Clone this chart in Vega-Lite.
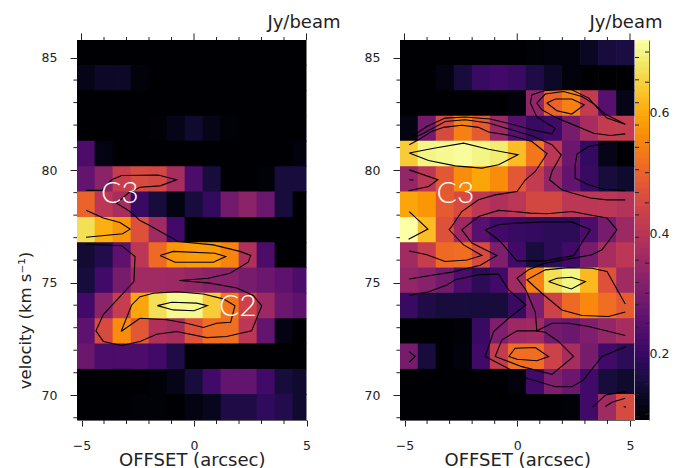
{"$schema":"https://vega.github.io/schema/vega-lite/v6.json","padding":{"left":17,"top":13,"right":0,"bottom":0},"bounds":"flush","spacing":0,"config":{"view":{"stroke":null},"axis":{"grid":false,"labelFont":"DejaVu Sans","labelFontSize":12.5,"labelColor":"#222","titleFont":"DejaVu Sans","titleFontSize":18,"titleFontWeight":"normal","titleColor":"#222","labelFlush":false,"tickColor":"#222","tickWidth":1,"domainColor":"#666","domainWidth":1},"title":{"font":"DejaVu Sans","fontSize":18,"fontWeight":"normal","color":"#222"}},
"datasets":{
"heatL":[
{"o":-4.8,"v":85.22,"f":0.08},{"o":-4,"v":85.22,"f":0.08},{"o":-3.2,"v":85.22,"f":0.08},{"o":-2.4,"v":85.22,"f":0.08},{"o":-1.6,"v":85.22,"f":0.08},{"o":-0.8,"v":85.22,"f":0.08},{"o":0,"v":85.22,"f":0.08},{"o":0.8,"v":85.22,"f":0.08},{"o":1.6,"v":85.22,"f":0.08},{"o":2.4,"v":85.22,"f":0.08},{"o":3.2,"v":85.22,"f":0.08},{"o":4,"v":85.22,"f":0.08},{"o":4.8,"v":85.22,"f":0.08},
{"o":-4.8,"v":84.09,"f":0.115},{"o":-4,"v":84.09,"f":0.134},{"o":-3.2,"v":84.09,"f":0.134},{"o":-2.4,"v":84.09,"f":0.103},{"o":-1.6,"v":84.09,"f":0.08},{"o":-0.8,"v":84.09,"f":0.08},{"o":0,"v":84.09,"f":0.08},{"o":0.8,"v":84.09,"f":0.08},{"o":1.6,"v":84.09,"f":0.08},{"o":2.4,"v":84.09,"f":0.08},{"o":3.2,"v":84.09,"f":0.08},{"o":4,"v":84.09,"f":0.08},{"o":4.8,"v":84.09,"f":0.08},
{"o":-4.8,"v":82.97,"f":0.08},{"o":-4,"v":82.97,"f":0.08},{"o":-3.2,"v":82.97,"f":0.08},{"o":-2.4,"v":82.97,"f":0.08},{"o":-1.6,"v":82.97,"f":0.08},{"o":-0.8,"v":82.97,"f":0.08},{"o":0,"v":82.97,"f":0.08},{"o":0.8,"v":82.97,"f":0.08},{"o":1.6,"v":82.97,"f":0.08},{"o":2.4,"v":82.97,"f":0.08},{"o":3.2,"v":82.97,"f":0.08},{"o":4,"v":82.97,"f":0.08},{"o":4.8,"v":82.97,"f":0.08},
{"o":-4.8,"v":81.84,"f":0.08},{"o":-4,"v":81.84,"f":0.08},{"o":-3.2,"v":81.84,"f":0.08},{"o":-2.4,"v":81.84,"f":0.08},{"o":-1.6,"v":81.84,"f":0.096},{"o":-0.8,"v":81.84,"f":0.115},{"o":0,"v":81.84,"f":0.14},{"o":0.8,"v":81.84,"f":0.115},{"o":1.6,"v":81.84,"f":0.096},{"o":2.4,"v":81.84,"f":0.08},{"o":3.2,"v":81.84,"f":0.08},{"o":4,"v":81.84,"f":0.08},{"o":4.8,"v":81.84,"f":0.08},
{"o":-4.8,"v":80.72,"f":0.229},{"o":-4,"v":80.72,"f":0.109},{"o":-3.2,"v":80.72,"f":0.08},{"o":-2.4,"v":80.72,"f":0.08},{"o":-1.6,"v":80.72,"f":0.08},{"o":-0.8,"v":80.72,"f":0.08},{"o":0,"v":80.72,"f":0.08},{"o":0.8,"v":80.72,"f":0.08},{"o":1.6,"v":80.72,"f":0.08},{"o":2.4,"v":80.72,"f":0.08},{"o":3.2,"v":80.72,"f":0.08},{"o":4,"v":80.72,"f":0.08},{"o":4.8,"v":80.72,"f":0.103},
{"o":-4.8,"v":79.59,"f":0.266},{"o":-4,"v":79.59,"f":0.329},{"o":-3.2,"v":79.59,"f":0.424},{"o":-2.4,"v":79.59,"f":0.455},{"o":-1.6,"v":79.59,"f":0.449},{"o":-0.8,"v":79.59,"f":0.373},{"o":0,"v":79.59,"f":0.229},{"o":0.8,"v":79.59,"f":0.153},{"o":1.6,"v":79.59,"f":0.08},{"o":2.4,"v":79.59,"f":0.08},{"o":3.2,"v":79.59,"f":0.096},{"o":4,"v":79.59,"f":0.153},{"o":4.8,"v":79.59,"f":0.153},
{"o":-4.8,"v":78.47,"f":0.5},{"o":-4,"v":78.47,"f":0.405},{"o":-3.2,"v":78.47,"f":0.373},{"o":-2.4,"v":78.47,"f":0.203},{"o":-1.6,"v":78.47,"f":0.153},{"o":-0.8,"v":78.47,"f":0.109},{"o":0,"v":78.47,"f":0.153},{"o":0.8,"v":78.47,"f":0.197},{"o":1.6,"v":78.47,"f":0.292},{"o":2.4,"v":78.47,"f":0.329},{"o":3.2,"v":78.47,"f":0.279},{"o":4,"v":78.47,"f":0.153},{"o":4.8,"v":78.47,"f":0.08},
{"o":-4.8,"v":77.34,"f":0.67},{"o":-4,"v":77.34,"f":0.607},{"o":-3.2,"v":77.34,"f":0.575},{"o":-2.4,"v":77.34,"f":0.468},{"o":-1.6,"v":77.34,"f":0.361},{"o":-0.8,"v":77.34,"f":0.216},{"o":0,"v":77.34,"f":0.08},{"o":0.8,"v":77.34,"f":0.08},{"o":1.6,"v":77.34,"f":0.08},{"o":2.4,"v":77.34,"f":0.08},{"o":3.2,"v":77.34,"f":0.08},{"o":4,"v":77.34,"f":0.08},{"o":4.8,"v":77.34,"f":0.08},
{"o":-4.8,"v":76.22,"f":0.147},{"o":-4,"v":76.22,"f":0.172},{"o":-3.2,"v":76.22,"f":0.26},{"o":-2.4,"v":76.22,"f":0.405},{"o":-1.6,"v":76.22,"f":0.512},{"o":-0.8,"v":76.22,"f":0.575},{"o":0,"v":76.22,"f":0.581},{"o":0.8,"v":76.22,"f":0.581},{"o":1.6,"v":76.22,"f":0.55},{"o":2.4,"v":76.22,"f":0.386},{"o":3.2,"v":76.22,"f":0.229},{"o":4,"v":76.22,"f":0.08},{"o":4.8,"v":76.22,"f":0.08},
{"o":-4.8,"v":75.09,"f":0.153},{"o":-4,"v":75.09,"f":0.216},{"o":-3.2,"v":75.09,"f":0.298},{"o":-2.4,"v":75.09,"f":0.361},{"o":-1.6,"v":75.09,"f":0.361},{"o":-0.8,"v":75.09,"f":0.355},{"o":0,"v":75.09,"f":0.342},{"o":0.8,"v":75.09,"f":0.329},{"o":1.6,"v":75.09,"f":0.323},{"o":2.4,"v":75.09,"f":0.298},{"o":3.2,"v":75.09,"f":0.279},{"o":4,"v":75.09,"f":0.26},{"o":4.8,"v":75.09,"f":0.229},
{"o":-4.8,"v":73.97,"f":0.216},{"o":-4,"v":73.97,"f":0.329},{"o":-3.2,"v":73.97,"f":0.424},{"o":-2.4,"v":73.97,"f":0.594},{"o":-1.6,"v":73.97,"f":0.67},{"o":-0.8,"v":73.97,"f":0.707},{"o":0,"v":73.97,"f":0.707},{"o":0.8,"v":73.97,"f":0.644},{"o":1.6,"v":73.97,"f":0.531},{"o":2.4,"v":73.97,"f":0.436},{"o":3.2,"v":73.97,"f":0.355},{"o":4,"v":73.97,"f":0.279},{"o":4.8,"v":73.97,"f":0.26},
{"o":-4.8,"v":72.84,"f":0.26},{"o":-4,"v":72.84,"f":0.455},{"o":-3.2,"v":72.84,"f":0.562},{"o":-2.4,"v":72.84,"f":0.481},{"o":-1.6,"v":72.84,"f":0.386},{"o":-0.8,"v":72.84,"f":0.373},{"o":0,"v":72.84,"f":0.468},{"o":0.8,"v":72.84,"f":0.518},{"o":1.6,"v":72.84,"f":0.518},{"o":2.4,"v":72.84,"f":0.405},{"o":3.2,"v":72.84,"f":0.266},{"o":4,"v":72.84,"f":0.109},{"o":4.8,"v":72.84,"f":0.08},
{"o":-4.8,"v":71.72,"f":0.279},{"o":-4,"v":71.72,"f":0.229},{"o":-3.2,"v":71.72,"f":0.229},{"o":-2.4,"v":71.72,"f":0.229},{"o":-1.6,"v":71.72,"f":0.216},{"o":-0.8,"v":71.72,"f":0.166},{"o":0,"v":71.72,"f":0.08},{"o":0.8,"v":71.72,"f":0.08},{"o":1.6,"v":71.72,"f":0.08},{"o":2.4,"v":71.72,"f":0.08},{"o":3.2,"v":71.72,"f":0.08},{"o":4,"v":71.72,"f":0.08},{"o":4.8,"v":71.72,"f":0.08},
{"o":-4.8,"v":70.59,"f":0.08},{"o":-4,"v":70.59,"f":0.08},{"o":-3.2,"v":70.59,"f":0.08},{"o":-2.4,"v":70.59,"f":0.08},{"o":-1.6,"v":70.59,"f":0.096},{"o":-0.8,"v":70.59,"f":0.115},{"o":0,"v":70.59,"f":0.153},{"o":0.8,"v":70.59,"f":0.216},{"o":1.6,"v":70.59,"f":0.266},{"o":2.4,"v":70.59,"f":0.266},{"o":3.2,"v":70.59,"f":0.216},{"o":4,"v":70.59,"f":0.153},{"o":4.8,"v":70.59,"f":0.14},
{"o":-4.8,"v":69.47,"f":0.08},{"o":-4,"v":69.47,"f":0.08},{"o":-3.2,"v":69.47,"f":0.08},{"o":-2.4,"v":69.47,"f":0.096},{"o":-1.6,"v":69.47,"f":0.096},{"o":-0.8,"v":69.47,"f":0.08},{"o":0,"v":69.47,"f":0.109},{"o":0.8,"v":69.47,"f":0.122},{"o":1.6,"v":69.47,"f":0.166},{"o":2.4,"v":69.47,"f":0.166},{"o":3.2,"v":69.47,"f":0.191},{"o":4,"v":69.47,"f":0.172},{"o":4.8,"v":69.47,"f":0.14}
],
"heatR":[
{"o":-4.8,"v":85.22,"f":0.08},{"o":-4,"v":85.22,"f":0.08},{"o":-3.2,"v":85.22,"f":0.08},{"o":-2.4,"v":85.22,"f":0.08},{"o":-1.6,"v":85.22,"f":0.08},{"o":-0.8,"v":85.22,"f":0.08},{"o":0,"v":85.22,"f":0.08},{"o":0.8,"v":85.22,"f":0.096},{"o":1.6,"v":85.22,"f":0.103},{"o":2.4,"v":85.22,"f":0.103},{"o":3.2,"v":85.22,"f":0.128},{"o":4,"v":85.22,"f":0.153},{"o":4.8,"v":85.22,"f":0.159},
{"o":-4.8,"v":84.09,"f":0.08},{"o":-4,"v":84.09,"f":0.08},{"o":-3.2,"v":84.09,"f":0.109},{"o":-2.4,"v":84.09,"f":0.153},{"o":-1.6,"v":84.09,"f":0.203},{"o":-0.8,"v":84.09,"f":0.216},{"o":0,"v":84.09,"f":0.203},{"o":0.8,"v":84.09,"f":0.166},{"o":1.6,"v":84.09,"f":0.134},{"o":2.4,"v":84.09,"f":0.103},{"o":3.2,"v":84.09,"f":0.08},{"o":4,"v":84.09,"f":0.08},{"o":4.8,"v":84.09,"f":0.08},
{"o":-4.8,"v":82.97,"f":0.08},{"o":-4,"v":82.97,"f":0.08},{"o":-3.2,"v":82.97,"f":0.08},{"o":-2.4,"v":82.97,"f":0.08},{"o":-1.6,"v":82.97,"f":0.08},{"o":-0.8,"v":82.97,"f":0.08},{"o":0,"v":82.97,"f":0.103},{"o":0.8,"v":82.97,"f":0.342},{"o":1.6,"v":82.97,"f":0.5},{"o":2.4,"v":82.97,"f":0.544},{"o":3.2,"v":82.97,"f":0.418},{"o":4,"v":82.97,"f":0.248},{"o":4.8,"v":82.97,"f":0.115},
{"o":-4.8,"v":81.84,"f":0.109},{"o":-4,"v":81.84,"f":0.292},{"o":-3.2,"v":81.84,"f":0.455},{"o":-2.4,"v":81.84,"f":0.544},{"o":-1.6,"v":81.84,"f":0.487},{"o":-0.8,"v":81.84,"f":0.355},{"o":0,"v":81.84,"f":0.248},{"o":0.8,"v":81.84,"f":0.203},{"o":1.6,"v":81.84,"f":0.216},{"o":2.4,"v":81.84,"f":0.298},{"o":3.2,"v":81.84,"f":0.373},{"o":4,"v":81.84,"f":0.418},{"o":4.8,"v":81.84,"f":0.418},
{"o":-4.8,"v":80.72,"f":0.644},{"o":-4,"v":80.72,"f":0.701},{"o":-3.2,"v":80.72,"f":0.707},{"o":-2.4,"v":80.72,"f":0.714},{"o":-1.6,"v":80.72,"f":0.701},{"o":-0.8,"v":80.72,"f":0.688},{"o":0,"v":80.72,"f":0.625},{"o":0.8,"v":80.72,"f":0.531},{"o":1.6,"v":80.72,"f":0.405},{"o":2.4,"v":80.72,"f":0.279},{"o":3.2,"v":80.72,"f":0.197},{"o":4,"v":80.72,"f":0.115},{"o":4.8,"v":80.72,"f":0.08},
{"o":-4.8,"v":79.59,"f":0.342},{"o":-4,"v":79.59,"f":0.405},{"o":-3.2,"v":79.59,"f":0.481},{"o":-2.4,"v":79.59,"f":0.562},{"o":-1.6,"v":79.59,"f":0.594},{"o":-0.8,"v":79.59,"f":0.562},{"o":0,"v":79.59,"f":0.481},{"o":0.8,"v":79.59,"f":0.418},{"o":1.6,"v":79.59,"f":0.342},{"o":2.4,"v":79.59,"f":0.266},{"o":3.2,"v":79.59,"f":0.203},{"o":4,"v":79.59,"f":0.153},{"o":4.8,"v":79.59,"f":0.14},
{"o":-4.8,"v":78.47,"f":0.594},{"o":-4,"v":78.47,"f":0.575},{"o":-3.2,"v":78.47,"f":0.487},{"o":-2.4,"v":78.47,"f":0.455},{"o":-1.6,"v":78.47,"f":0.405},{"o":-0.8,"v":78.47,"f":0.386},{"o":0,"v":78.47,"f":0.405},{"o":0.8,"v":78.47,"f":0.449},{"o":1.6,"v":78.47,"f":0.449},{"o":2.4,"v":78.47,"f":0.405},{"o":3.2,"v":78.47,"f":0.405},{"o":4,"v":78.47,"f":0.405},{"o":4.8,"v":78.47,"f":0.392},
{"o":-4.8,"v":77.34,"f":0.72},{"o":-4,"v":77.34,"f":0.625},{"o":-3.2,"v":77.34,"f":0.468},{"o":-2.4,"v":77.34,"f":0.355},{"o":-1.6,"v":77.34,"f":0.248},{"o":-0.8,"v":77.34,"f":0.216},{"o":0,"v":77.34,"f":0.203},{"o":0.8,"v":77.34,"f":0.197},{"o":1.6,"v":77.34,"f":0.185},{"o":2.4,"v":77.34,"f":0.185},{"o":3.2,"v":77.34,"f":0.229},{"o":4,"v":77.34,"f":0.298},{"o":4.8,"v":77.34,"f":0.355},
{"o":-4.8,"v":76.22,"f":0.361},{"o":-4,"v":76.22,"f":0.424},{"o":-3.2,"v":76.22,"f":0.512},{"o":-2.4,"v":76.22,"f":0.518},{"o":-1.6,"v":76.22,"f":0.455},{"o":-0.8,"v":76.22,"f":0.31},{"o":0,"v":76.22,"f":0.216},{"o":0.8,"v":76.22,"f":0.153},{"o":1.6,"v":76.22,"f":0.185},{"o":2.4,"v":76.22,"f":0.216},{"o":3.2,"v":76.22,"f":0.298},{"o":4,"v":76.22,"f":0.373},{"o":4.8,"v":76.22,"f":0.405},
{"o":-4.8,"v":75.09,"f":0.342},{"o":-4,"v":75.09,"f":0.323},{"o":-3.2,"v":75.09,"f":0.292},{"o":-2.4,"v":75.09,"f":0.229},{"o":-1.6,"v":75.09,"f":0.185},{"o":-0.8,"v":75.09,"f":0.216},{"o":0,"v":75.09,"f":0.361},{"o":0.8,"v":75.09,"f":0.544},{"o":1.6,"v":75.09,"f":0.67},{"o":2.4,"v":75.09,"f":0.701},{"o":3.2,"v":75.09,"f":0.619},{"o":4,"v":75.09,"f":0.468},{"o":4.8,"v":75.09,"f":0.361},
{"o":-4.8,"v":73.97,"f":0.203},{"o":-4,"v":73.97,"f":0.166},{"o":-3.2,"v":73.97,"f":0.153},{"o":-2.4,"v":73.97,"f":0.153},{"o":-1.6,"v":73.97,"f":0.153},{"o":-0.8,"v":73.97,"f":0.153},{"o":0,"v":73.97,"f":0.203},{"o":0.8,"v":73.97,"f":0.31},{"o":1.6,"v":73.97,"f":0.436},{"o":2.4,"v":73.97,"f":0.512},{"o":3.2,"v":73.97,"f":0.556},{"o":4,"v":73.97,"f":0.518},{"o":4.8,"v":73.97,"f":0.487},
{"o":-4.8,"v":72.84,"f":0.08},{"o":-4,"v":72.84,"f":0.08},{"o":-3.2,"v":72.84,"f":0.08},{"o":-2.4,"v":72.84,"f":0.096},{"o":-1.6,"v":72.84,"f":0.203},{"o":-0.8,"v":72.84,"f":0.31},{"o":0,"v":72.84,"f":0.355},{"o":0.8,"v":72.84,"f":0.361},{"o":1.6,"v":72.84,"f":0.292},{"o":2.4,"v":72.84,"f":0.279},{"o":3.2,"v":72.84,"f":0.31},{"o":4,"v":72.84,"f":0.342},{"o":4.8,"v":72.84,"f":0.373},
{"o":-4.8,"v":71.72,"f":0.298},{"o":-4,"v":71.72,"f":0.153},{"o":-3.2,"v":71.72,"f":0.08},{"o":-2.4,"v":71.72,"f":0.103},{"o":-1.6,"v":71.72,"f":0.216},{"o":-0.8,"v":71.72,"f":0.418},{"o":0,"v":71.72,"f":0.518},{"o":0.8,"v":71.72,"f":0.518},{"o":1.6,"v":71.72,"f":0.436},{"o":2.4,"v":71.72,"f":0.373},{"o":3.2,"v":71.72,"f":0.298},{"o":4,"v":71.72,"f":0.216},{"o":4.8,"v":71.72,"f":0.185},
{"o":-4.8,"v":70.59,"f":0.08},{"o":-4,"v":70.59,"f":0.08},{"o":-3.2,"v":70.59,"f":0.08},{"o":-2.4,"v":70.59,"f":0.08},{"o":-1.6,"v":70.59,"f":0.08},{"o":-0.8,"v":70.59,"f":0.08},{"o":0,"v":70.59,"f":0.103},{"o":0.8,"v":70.59,"f":0.216},{"o":1.6,"v":70.59,"f":0.31},{"o":2.4,"v":70.59,"f":0.279},{"o":3.2,"v":70.59,"f":0.216},{"o":4,"v":70.59,"f":0.153},{"o":4.8,"v":70.59,"f":0.14},
{"o":-4.8,"v":69.47,"f":0.08},{"o":-4,"v":69.47,"f":0.08},{"o":-3.2,"v":69.47,"f":0.08},{"o":-2.4,"v":69.47,"f":0.08},{"o":-1.6,"v":69.47,"f":0.08},{"o":-0.8,"v":69.47,"f":0.08},{"o":0,"v":69.47,"f":0.08},{"o":0.8,"v":69.47,"f":0.08},{"o":1.6,"v":69.47,"f":0.08},{"o":2.4,"v":69.47,"f":0.096},{"o":3.2,"v":69.47,"f":0.216},{"o":4,"v":69.47,"f":0.361},{"o":4.8,"v":69.47,"f":0.455}
],
"contL":[
{"c":"L1","i":0,"x":-4.8,"y":79.1},{"c":"L1","i":1,"x":-4.1,"y":79.1},{"c":"L1","i":2,"x":-3.66,"y":79.57},{"c":"L1","i":3,"x":-3.21,"y":79.76},{"c":"L1","i":4,"x":-1.59,"y":79.78},{"c":"L1","i":5,"x":-0.77,"y":79.57},{"c":"L1","i":6,"x":-1.51,"y":79.3},{"c":"L1","i":7,"x":-2.4,"y":79.24},{"c":"L1","i":8,"x":-2.92,"y":78.98},{"c":"L1","i":9,"x":-3.44,"y":78.53},{"c":"L1","i":10,"x":-2.84,"y":78.16},{"c":"L1","i":11,"x":-2.4,"y":77.76},{"c":"L1","i":12,"x":-2.03,"y":77.57},{"c":"L1","i":13,"x":-1.36,"y":77.2},{"c":"L1","i":14,"x":-0.7,"y":76.83},{"c":"L1","i":15,"x":0.86,"y":76.68},{"c":"L1","i":16,"x":2.04,"y":76.39},{"c":"L1","i":17,"x":2.52,"y":76.21},{"c":"L1","i":18,"x":2.41,"y":75.91},{"c":"L1","i":19,"x":1.6,"y":75.42},{"c":"L1","i":20,"x":0.64,"y":75.2},{"c":"L1","i":21,"x":-0.65,"y":75.1},{"c":"L1","i":22,"x":0.71,"y":74.98},{"c":"L1","i":23,"x":1.9,"y":74.76},{"c":"L1","i":24,"x":2.64,"y":74.43},{"c":"L1","i":25,"x":3.01,"y":73.97},{"c":"L1","i":26,"x":2.56,"y":72.86},{"c":"L1","i":27,"x":1.45,"y":72.61},{"c":"L1","i":28,"x":0.56,"y":72.56},{"c":"L1","i":29,"x":-0.77,"y":72.83},{"c":"L1","i":30,"x":-1.66,"y":72.71},{"c":"L1","i":31,"x":-2.4,"y":72.39},{"c":"L1","i":32,"x":-3.21,"y":72.21},{"c":"L1","i":33,"x":-4.03,"y":72.39},{"c":"L1","i":34,"x":-4.36,"y":72.86},{"c":"L1","i":35,"x":-4.03,"y":73.58},{"c":"L1","i":36,"x":-3.29,"y":74.38},{"c":"L1","i":37,"x":-2.67,"y":75.05},{"c":"L1","i":38,"x":-2.62,"y":76.16},{"c":"L1","i":39,"x":-3.21,"y":76.64},{"c":"L1","i":40,"x":-4.8,"y":76.71},
{"c":"L2","i":0,"x":-4.8,"y":78.22},{"c":"L2","i":1,"x":-4.03,"y":77.87},{"c":"L2","i":2,"x":-3.29,"y":77.67},{"c":"L2","i":3,"x":-2.84,"y":77.38},{"c":"L2","i":4,"x":-3.17,"y":77.17},{"c":"L2","i":5,"x":-4.8,"y":77.02},
{"c":"L3","i":0,"x":-1.51,"y":76.21},{"c":"L3","i":1,"x":-0.92,"y":76.39},{"c":"L3","i":2,"x":0.93,"y":76.31},{"c":"L3","i":3,"x":1.41,"y":76.16},{"c":"L3","i":4,"x":0.86,"y":75.91},{"c":"L3","i":5,"x":-0.84,"y":75.91},{"c":"L3","i":6,"x":-1.51,"y":76.21},
{"c":"L4","i":0,"x":-3.24,"y":72.83},{"c":"L4","i":1,"x":-2.77,"y":74.01},{"c":"L4","i":2,"x":-2.4,"y":74.38},{"c":"L4","i":3,"x":-1.81,"y":74.53},{"c":"L4","i":4,"x":-0.77,"y":74.6},{"c":"L4","i":5,"x":0.41,"y":74.5},{"c":"L4","i":6,"x":1.3,"y":74.28},{"c":"L4","i":7,"x":1.82,"y":73.97},{"c":"L4","i":8,"x":1.63,"y":73.24},{"c":"L4","i":9,"x":1.01,"y":73.2},{"c":"L4","i":10,"x":0.41,"y":73.01},{"c":"L4","i":11,"x":-0.33,"y":73.2},{"c":"L4","i":12,"x":-1.21,"y":73.35},{"c":"L4","i":13,"x":-2.4,"y":73.42},{"c":"L4","i":14,"x":-3.24,"y":72.83},
{"c":"L5","i":0,"x":-1.63,"y":73.98},{"c":"L5","i":1,"x":-0.99,"y":74.13},{"c":"L5","i":2,"x":0.12,"y":74.09},{"c":"L5","i":3,"x":0.59,"y":73.98},{"c":"L5","i":4,"x":0,"y":73.75},{"c":"L5","i":5,"x":-0.92,"y":73.79},{"c":"L5","i":6,"x":-1.63,"y":73.98}
],
"contR":[
{"c":"A","i":0,"x":-4.82,"y":81.38},{"c":"A","i":1,"x":-4.01,"y":81.94},{"c":"A","i":2,"x":-3.2,"y":82.31},{"c":"A","i":3,"x":-2.31,"y":82.36},{"c":"A","i":4,"x":-1.2,"y":82.27},{"c":"A","i":5,"x":-0.24,"y":82.04},{"c":"A","i":6,"x":0.65,"y":81.79},{"c":"A","i":7,"x":1.54,"y":81.61},{"c":"A","i":8,"x":1.69,"y":81.85},{"c":"A","i":9,"x":0.87,"y":82.36},{"c":"A","i":10,"x":0.58,"y":82.98},{"c":"A","i":11,"x":0.65,"y":83.35},{"c":"A","i":12,"x":1.24,"y":83.54},{"c":"A","i":13,"x":2.35,"y":83.6},{"c":"A","i":14,"x":3.17,"y":83.2},{"c":"A","i":15,"x":3.76,"y":82.53},{"c":"A","i":16,"x":3.98,"y":82.31},{"c":"A","i":17,"x":4.79,"y":82.04},
{"c":"B","i":0,"x":-4.42,"y":81.5},{"c":"B","i":1,"x":-4.01,"y":81.72},{"c":"B","i":2,"x":-3.2,"y":82.16},{"c":"B","i":3,"x":-2.31,"y":82.24},{"c":"B","i":4,"x":-1.27,"y":82.09},{"c":"B","i":5,"x":-0.53,"y":81.87},{"c":"B","i":6,"x":0.65,"y":81.53},{"c":"B","i":7,"x":1.54,"y":81.13},{"c":"B","i":8,"x":1.95,"y":80.68},{"c":"B","i":9,"x":1.54,"y":79.94},{"c":"B","i":10,"x":1.43,"y":79.57},{"c":"B","i":11,"x":1.98,"y":79.13},{"c":"B","i":12,"x":2.43,"y":78.98},{"c":"B","i":13,"x":3.24,"y":78.76},{"c":"B","i":14,"x":3.98,"y":78.68},{"c":"B","i":15,"x":4.79,"y":78.68},
{"c":"C","i":0,"x":-4.79,"y":81.13},{"c":"C","i":1,"x":-4.38,"y":81.35},{"c":"C","i":2,"x":-3.79,"y":81.72},{"c":"C","i":3,"x":-3.27,"y":81.9},{"c":"C","i":4,"x":-2.46,"y":81.99},{"c":"C","i":5,"x":-1.72,"y":81.9},{"c":"C","i":6,"x":-1.27,"y":81.69},{"c":"C","i":7,"x":-0.24,"y":81.53},{"c":"C","i":8,"x":0.65,"y":81.27},{"c":"C","i":9,"x":1.32,"y":80.73},{"c":"C","i":10,"x":0.8,"y":79.94},{"c":"C","i":11,"x":0.36,"y":79.57},{"c":"C","i":12,"x":-0.01,"y":79.05},{"c":"C","i":13,"x":-0.98,"y":78.9},{"c":"C","i":14,"x":-1.72,"y":78.68},{"c":"C","i":15,"x":-2.46,"y":78.16},{"c":"C","i":16,"x":-2.9,"y":77.5},{"c":"C","i":17,"x":-3.02,"y":77.35},{"c":"C","i":18,"x":-2.38,"y":76.68},{"c":"C","i":19,"x":-1.57,"y":76.21},{"c":"C","i":20,"x":-2.23,"y":76.01},{"c":"C","i":21,"x":-3.2,"y":75.94},{"c":"C","i":22,"x":-4.01,"y":76.24},{"c":"C","i":23,"x":-4.79,"y":76.41},
{"c":"F","i":0,"x":-4.79,"y":80.76},{"c":"F","i":1,"x":-3.64,"y":80.98},{"c":"F","i":2,"x":-2.38,"y":81.2},{"c":"F","i":3,"x":-1.27,"y":80.93},{"c":"F","i":4,"x":0.03,"y":80.68},{"c":"F","i":5,"x":-0.83,"y":80.24},{"c":"F","i":6,"x":-1.57,"y":80.09},{"c":"F","i":7,"x":-2.75,"y":80.19},{"c":"F","i":8,"x":-3.93,"y":80.43},{"c":"F","i":9,"x":-4.79,"y":80.76},
{"c":"G","i":0,"x":-4.79,"y":80.01},{"c":"G","i":1,"x":-3.52,"y":79.57},{"c":"G","i":2,"x":-3.93,"y":79.27},{"c":"G","i":3,"x":-4.82,"y":79.08},
{"c":"G2","i":0,"x":-4.79,"y":79.57},{"c":"G2","i":1,"x":-4.6,"y":79.57},
{"c":"H","i":0,"x":-4.79,"y":78.16},{"c":"H","i":1,"x":-3.96,"y":77.38},{"c":"H","i":2,"x":-4.82,"y":76.93},
{"c":"D2","i":0,"x":-4.79,"y":75.16},{"c":"D2","i":1,"x":-3.86,"y":75.32},{"c":"D2","i":2,"x":-2.9,"y":75.47},{"c":"D2","i":3,"x":-1.64,"y":75.77},{"c":"D2","i":4,"x":-0.9,"y":76.21},{"c":"D2","i":5,"x":-2.01,"y":76.76},{"c":"D2","i":6,"x":-2.46,"y":77.35},{"c":"D2","i":7,"x":-1.72,"y":77.94},{"c":"D2","i":8,"x":-0.83,"y":78.21},{"c":"D2","i":9,"x":-0.16,"y":78.16},{"c":"D2","i":10,"x":0.58,"y":78.09},{"c":"D2","i":11,"x":1.32,"y":78.06},{"c":"D2","i":12,"x":2.43,"y":78.16},{"c":"D2","i":13,"x":3.24,"y":78.01},{"c":"D2","i":14,"x":3.98,"y":77.87},{"c":"D2","i":15,"x":4.42,"y":77.35},{"c":"D2","i":16,"x":3.76,"y":76.46},{"c":"D2","i":17,"x":3.31,"y":76.24},{"c":"D2","i":18,"x":2.5,"y":76.09},{"c":"D2","i":19,"x":1.24,"y":75.87},{"c":"D2","i":20,"x":0.5,"y":75.57},{"c":"D2","i":21,"x":-0.01,"y":75.2},{"c":"D2","i":22,"x":0.38,"y":74.68},{"c":"D2","i":23,"x":0.8,"y":73.69},{"c":"D2","i":24,"x":0.87,"y":72.86},{"c":"D2","i":25,"x":1.54,"y":73.2},{"c":"D2","i":26,"x":2.28,"y":73.2},{"c":"D2","i":27,"x":3.17,"y":73.05},{"c":"D2","i":28,"x":4.79,"y":72.65},
{"c":"I","i":0,"x":-1.42,"y":77.35},{"c":"I","i":1,"x":-0.83,"y":77.57},{"c":"I","i":2,"x":-0.16,"y":77.64},{"c":"I","i":3,"x":1.3,"y":77.7},{"c":"I","i":4,"x":2.41,"y":77.7},{"c":"I","i":5,"x":3.24,"y":77.35},{"c":"I","i":6,"x":2.5,"y":76.2},{"c":"I","i":7,"x":1.24,"y":75.97},{"c":"I","i":8,"x":-0.02,"y":75.97},{"c":"I","i":9,"x":-0.75,"y":76.83},{"c":"I","i":10,"x":-1.42,"y":77.35},
{"c":"J","i":0,"x":4.79,"y":81.27},{"c":"J","i":1,"x":4.27,"y":81.24},{"c":"J","i":2,"x":3.16,"y":81.05},{"c":"J","i":3,"x":2.65,"y":80.71},{"c":"J","i":4,"x":2.57,"y":80.24},{"c":"J","i":5,"x":2.57,"y":79.64},{"c":"J","i":6,"x":3.16,"y":79.35},{"c":"J","i":7,"x":3.83,"y":79.15},{"c":"J","i":8,"x":4.79,"y":79.09},
{"c":"M","i":0,"x":4.79,"y":81.61},{"c":"M","i":1,"x":4.13,"y":81.54},{"c":"M","i":2,"x":3.39,"y":81.64},{"c":"M","i":3,"x":2.5,"y":82.01},{"c":"M","i":4,"x":1.76,"y":82.31},{"c":"M","i":5,"x":1.09,"y":82.68},{"c":"M","i":6,"x":0.87,"y":82.98},{"c":"M","i":7,"x":1.24,"y":83.38},{"c":"M","i":8,"x":2.05,"y":83.49},{"c":"M","i":9,"x":2.87,"y":83.27},{"c":"M","i":10,"x":3.46,"y":82.9},{"c":"M","i":11,"x":3.9,"y":82.49},{"c":"M","i":12,"x":4.79,"y":82.04},
{"c":"N","i":0,"x":1.31,"y":82.98},{"c":"N","i":1,"x":1.69,"y":83.16},{"c":"N","i":2,"x":2.42,"y":83.16},{"c":"N","i":3,"x":2.97,"y":82.9},{"c":"N","i":4,"x":2.42,"y":82.49},{"c":"N","i":5,"x":1.76,"y":82.64},{"c":"N","i":6,"x":1.31,"y":82.98},
{"c":"O","i":0,"x":4.79,"y":74.05},{"c":"O","i":1,"x":3.98,"y":75.5},{"c":"O","i":2,"x":3.31,"y":75.64},{"c":"O","i":3,"x":2.28,"y":75.67},{"c":"O","i":4,"x":1.24,"y":75.57},{"c":"O","i":5,"x":0.43,"y":75.13},{"c":"O","i":6,"x":1.09,"y":74.53},{"c":"O","i":7,"x":1.98,"y":73.79},{"c":"O","i":8,"x":2.87,"y":73.54},{"c":"O","i":9,"x":4.05,"y":73.5},{"c":"O","i":10,"x":4.79,"y":73.7},
{"c":"P","i":0,"x":1.39,"y":75.05},{"c":"P","i":1,"x":1.76,"y":75.2},{"c":"P","i":2,"x":2.4,"y":75.24},{"c":"P","i":3,"x":3.02,"y":75.05},{"c":"P","i":4,"x":2.4,"y":74.72},{"c":"P","i":5,"x":1.83,"y":74.9},{"c":"P","i":6,"x":1.39,"y":75.05},
{"c":"D","i":0,"x":-4.79,"y":74.43},{"c":"D","i":1,"x":-3.93,"y":74.6},{"c":"D","i":2,"x":-3.12,"y":74.9},{"c":"D","i":3,"x":-2.75,"y":75.13},{"c":"D","i":4,"x":-1.72,"y":75.35},{"c":"D","i":5,"x":-0.83,"y":75.38},{"c":"D","i":6,"x":-0.38,"y":74.68},{"c":"D","i":7,"x":0.38,"y":74.01},{"c":"D","i":8,"x":-0.38,"y":73.42},{"c":"D","i":9,"x":-1.05,"y":72.83},{"c":"D","i":10,"x":-1.42,"y":71.72},{"c":"D","i":11,"x":0.43,"y":70.75},{"c":"D","i":12,"x":1.69,"y":70.38},{"c":"D","i":13,"x":2.43,"y":70.38},{"c":"D","i":14,"x":2.94,"y":70.68},{"c":"D","i":15,"x":3.76,"y":71.72},{"c":"D","i":16,"x":4.82,"y":72.16},
{"c":"E","i":0,"x":0.87,"y":72.86},{"c":"E","i":1,"x":-0.01,"y":72.86},{"c":"E","i":2,"x":-0.68,"y":72.46},{"c":"E","i":3,"x":-0.98,"y":71.72},{"c":"E","i":4,"x":0.21,"y":71.27},{"c":"E","i":5,"x":1.54,"y":70.93},{"c":"E","i":6,"x":2.5,"y":71.72},{"c":"E","i":7,"x":1.83,"y":72.39},{"c":"E","i":8,"x":1.24,"y":72.8},{"c":"E","i":9,"x":0.87,"y":72.86},
{"c":"Q","i":0,"x":-0.38,"y":71.72},{"c":"Q","i":1,"x":-0.09,"y":72.09},{"c":"Q","i":2,"x":0.8,"y":72.12},{"c":"Q","i":3,"x":1.39,"y":71.72},{"c":"Q","i":4,"x":0.87,"y":71.53},{"c":"Q","i":5,"x":-0.01,"y":71.6},{"c":"Q","i":6,"x":-0.38,"y":71.72},
{"c":"R","i":0,"x":-4.79,"y":71.94},{"c":"R","i":1,"x":-4.53,"y":71.72},{"c":"R","i":2,"x":-4.79,"y":71.47},
{"c":"S","i":0,"x":3.34,"y":69.47},{"c":"S","i":1,"x":3.91,"y":70.01},{"c":"S","i":2,"x":4.82,"y":70.16},
{"c":"T","i":0,"x":3.91,"y":69.5},{"c":"T","i":1,"x":4.2,"y":69.69},{"c":"T","i":2,"x":4.79,"y":69.87},
{"c":"U","i":0,"x":4.72,"y":69.5},{"c":"U","i":1,"x":4.82,"y":69.47}
],
"labL":[{"t":"C3","x":-3.3,"y":78.95},{"t":"C2","x":1.95,"y":73.9}],
"labR":[{"t":"C3","x":-2.74,"y":78.95}],
"topT":[{"x":-5,"y0":85.78,"y1":86.07},{"x":-4,"y0":85.78,"y1":85.91},{"x":-3,"y0":85.78,"y1":85.91},{"x":-2,"y0":85.78,"y1":85.91},{"x":-1,"y0":85.78,"y1":85.91},{"x":0,"y0":85.78,"y1":86.07},{"x":1,"y0":85.78,"y1":85.91},{"x":2,"y0":85.78,"y1":85.91},{"x":3,"y0":85.78,"y1":85.91},{"x":4,"y0":85.78,"y1":85.91},{"x":5,"y0":85.78,"y1":86.07},{"x":-4,"y0":68.9,"y1":68.72},{"x":-3,"y0":68.9,"y1":68.72},{"x":-2,"y0":68.9,"y1":68.72},{"x":-1,"y0":68.9,"y1":68.72},{"x":1,"y0":68.9,"y1":68.72},{"x":2,"y0":68.9,"y1":68.72},{"x":3,"y0":68.9,"y1":68.72},{"x":4,"y0":68.9,"y1":68.72}],
"leftT":[{"y":69,"x0":-5.2,"x1":-5.36},{"y":71,"x0":-5.2,"x1":-5.36},{"y":72,"x0":-5.2,"x1":-5.36},{"y":73,"x0":-5.2,"x1":-5.36},{"y":74,"x0":-5.2,"x1":-5.36},{"y":76,"x0":-5.2,"x1":-5.36},{"y":77,"x0":-5.2,"x1":-5.36},{"y":78,"x0":-5.2,"x1":-5.36},{"y":79,"x0":-5.2,"x1":-5.36},{"y":81,"x0":-5.2,"x1":-5.36},{"y":82,"x0":-5.2,"x1":-5.36},{"y":83,"x0":-5.2,"x1":-5.36},{"y":84,"x0":-5.2,"x1":-5.36}],
"bar":[{"f":0.09},{"f":0.1},{"f":0.11},{"f":0.12},{"f":0.13},{"f":0.14},{"f":0.15},{"f":0.16},{"f":0.17},{"f":0.18},{"f":0.19},{"f":0.2},{"f":0.21},{"f":0.22},{"f":0.23},{"f":0.24},{"f":0.25},{"f":0.26},{"f":0.27},{"f":0.28},{"f":0.29},{"f":0.3},{"f":0.31},{"f":0.32},{"f":0.33},{"f":0.34},{"f":0.35},{"f":0.36},{"f":0.37},{"f":0.38},{"f":0.39},{"f":0.4},{"f":0.41},{"f":0.42},{"f":0.43},{"f":0.44},{"f":0.45},{"f":0.46},{"f":0.47},{"f":0.48},{"f":0.49},{"f":0.5},{"f":0.51},{"f":0.52},{"f":0.53},{"f":0.54},{"f":0.55},{"f":0.56},{"f":0.57},{"f":0.58},{"f":0.59},{"f":0.6},{"f":0.61},{"f":0.62},{"f":0.63},{"f":0.64},{"f":0.65},{"f":0.66},{"f":0.67},{"f":0.68},{"f":0.69},{"f":0.7},{"f":0.71},{"f":0.72}],
"velT":[{"f":0.691,"x0":0,"x1":4},{"f":0.654,"x0":0,"x1":4},{"f":0.616,"x0":0,"x1":4},{"f":0.579,"x0":0,"x1":4},{"f":0.542,"x0":0,"x1":4},{"f":0.505,"x0":0,"x1":4},{"f":0.467,"x0":0,"x1":4},{"f":0.43,"x0":0,"x1":4},{"f":0.393,"x0":0,"x1":4},{"f":0.355,"x0":0,"x1":4},{"f":0.318,"x0":0,"x1":4},{"f":0.281,"x0":0,"x1":4},{"f":0.244,"x0":0,"x1":4},{"f":0.207,"x0":0,"x1":4},{"f":0.169,"x0":0,"x1":4},{"f":0.132,"x0":0,"x1":4},{"f":0.095,"x0":0,"x1":4},{"f":0.1,"x0":10,"x1":14},{"f":0.15,"x0":10,"x1":14},{"f":0.25,"x0":10,"x1":14},{"f":0.3,"x0":10,"x1":14},{"f":0.35,"x0":10,"x1":14},{"f":0.45,"x0":10,"x1":14},{"f":0.5,"x0":10,"x1":14},{"f":0.55,"x0":10,"x1":14},{"f":0.65,"x0":10,"x1":14},{"f":0.7,"x0":10,"x1":14}],
"sp":[{"v":70},{"v":85}]
},
"hconcat":[
{"width":229.5,"height":380,"title":{"text":"Jy/beam","anchor":"end","dx":30,"offset":1},"layer":[
{"data":{"name":"heatL"},"mark":{"type":"rect","width":18.7,"height":26.1,"clip":true},"encoding":{"x":{"field":"o","type":"quantitative","scale":{"domain":[-5.2,5],"nice":false,"zero":false},"axis":{"orient":"bottom","values":[-5,0,5],"labelOverlap":false,"tickSize":6,"labelPadding":13,"title":"OFFSET (arcsec)","titlePadding":0}},"y":{"field":"v","type":"quantitative","scale":{"domain":[68.9,85.78],"nice":false,"zero":false},"axis":{"orient":"left","values":[70,75,80,85],"labelOverlap":false,"tickSize":7,"labelPadding":13,"title":"velocity (km s⁻¹)","titleFontSize":16.5,"titleX":-44,"titleY":280}},"color":{"field":"f","type":"quantitative","scale":{"scheme":"inferno","domain":[0.09,0.72],"clamp":true},"legend":null}}},
{"data":{"name":"contL"},"mark":{"type":"line","color":"#000","strokeWidth":1.1},"encoding":{"x":{"field":"x","type":"quantitative"},"y":{"field":"y","type":"quantitative"},"detail":{"field":"c"},"order":{"field":"i"}}},
{"data":{"name":"topT"},"mark":{"type":"rule","color":"#222","strokeWidth":1},"encoding":{"x":{"field":"x","type":"quantitative"},"y":{"field":"y0","type":"quantitative"},"y2":{"field":"y1"}}},
{"data":{"name":"leftT"},"mark":{"type":"rule","color":"#222","strokeWidth":1},"encoding":{"y":{"field":"y","type":"quantitative"},"x":{"field":"x0","type":"quantitative"},"x2":{"field":"x1"}}},
{"data":{"name":"labL"},"mark":{"type":"text","font":"Lato","fontSize":30,"fontWeight":300,"color":"#fff"},"encoding":{"x":{"field":"x","type":"quantitative"},"y":{"field":"y","type":"quantitative"},"text":{"field":"t"}}}
]},
{"width":93,"height":380,"data":{"name":"sp"},"mark":{"type":"point","opacity":0},"encoding":{"y":{"field":"v","type":"quantitative","axis":null}}},
{"width":234.5,"height":380,"title":{"text":"Jy/beam","anchor":"end","dx":28,"offset":1},"layer":[
{"data":{"name":"heatR"},"mark":{"type":"rect","width":18.7,"height":26.1,"clip":true},"encoding":{"x":{"field":"o","type":"quantitative","scale":{"domain":[-5.2,5.2],"nice":false,"zero":false},"axis":{"orient":"bottom","values":[-5,0,5],"labelOverlap":false,"tickSize":6,"labelPadding":13,"title":"OFFSET (arcsec)","titlePadding":0}},"y":{"field":"v","type":"quantitative","scale":{"domain":[68.9,85.78],"nice":false,"zero":false},"axis":{"orient":"left","values":[70,75,80,85],"labelOverlap":false,"tickSize":7,"labelPadding":13,"title":null}},"color":{"field":"f","type":"quantitative","scale":{"scheme":"inferno","domain":[0.09,0.72],"clamp":true},"legend":null}}},
{"data":{"name":"contR"},"mark":{"type":"line","color":"#000","strokeWidth":1.1},"encoding":{"x":{"field":"x","type":"quantitative"},"y":{"field":"y","type":"quantitative"},"detail":{"field":"c"},"order":{"field":"i"}}},
{"data":{"name":"topT"},"mark":{"type":"rule","color":"#222","strokeWidth":1},"encoding":{"x":{"field":"x","type":"quantitative"},"y":{"field":"y0","type":"quantitative"},"y2":{"field":"y1"}}},
{"data":{"name":"leftT"},"mark":{"type":"rule","color":"#222","strokeWidth":1},"encoding":{"y":{"field":"y","type":"quantitative"},"x":{"field":"x0","type":"quantitative"},"x2":{"field":"x1"}}},
{"data":{"name":"labR"},"mark":{"type":"text","font":"Lato","fontSize":30,"fontWeight":300,"color":"#fff"},"encoding":{"x":{"field":"x","type":"quantitative"},"y":{"field":"y","type":"quantitative"},"text":{"field":"t"}}}
]},
{"width":14,"height":380,"layer":[
{"data":{"name":"bar"},"mark":{"type":"rect","height":7,"clip":true},"encoding":{"y":{"field":"f","type":"quantitative","scale":{"domain":[0.09,0.72],"nice":false,"zero":false},"axis":{"orient":"right","values":[0.2,0.4,0.6],"format":".1f","labelOverlap":false,"tickSize":-7,"labelPadding":7,"title":null}},"color":{"field":"f","type":"quantitative","scale":{"scheme":"inferno","domain":[0.09,0.72],"clamp":true},"legend":null}}},
{"data":{"name":"velT"},"mark":{"type":"rule","color":"#222","strokeWidth":1},"encoding":{"x":{"field":"x0","type":"quantitative","scale":{"domain":[0,14],"nice":false},"axis":null},"x2":{"field":"x1"},"y":{"field":"f","type":"quantitative"}}}
]}
]}
